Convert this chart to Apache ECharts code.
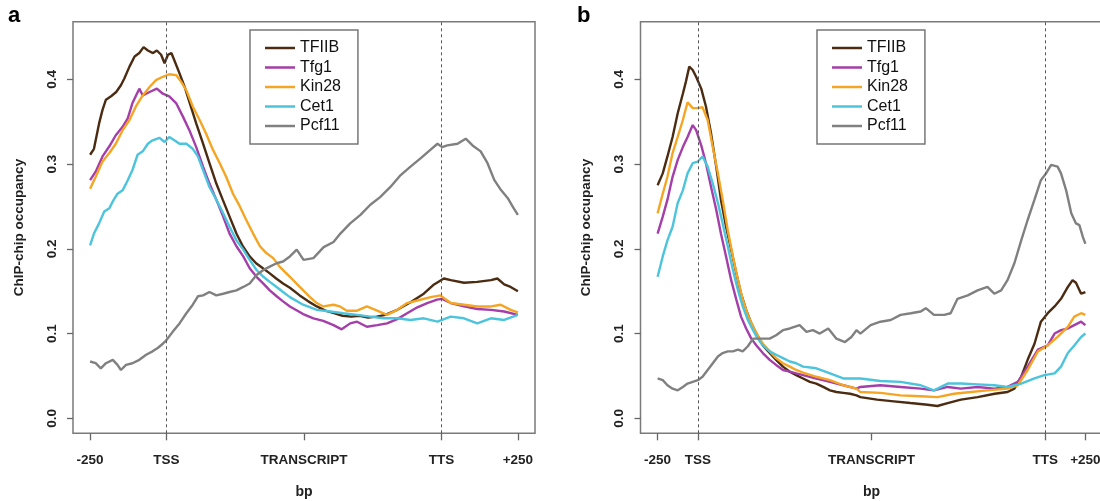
<!DOCTYPE html>
<html><head><meta charset="utf-8">
<script src="https://cdn.jsdelivr.net/npm/echarts@6/dist/echarts.min.js"></script>
<style>html,body{margin:0;padding:0;background:#fff}#c{width:1100px;height:501px}</style>
</head><body><div id="c"></div>
<script>
// ---- data (x = relative position along the metagene: 0 = -250, 1000 = +250) ----
const seriesNames = ['TFIIB', 'Tfg1', 'Kin28', 'Cet1', 'Pcf11'];
const tickLabels = ['-250', 'TSS', 'TRANSCRIPT', 'TTS', '+250'];
const ticksA = [0, 178.5, 500, 821.5, 1000];
const ticksB = [0, 94, 500, 906, 1000];
const yTicks = [0, 0.1, 0.2, 0.3, 0.4];

const aTFIIB = [[0,0.311],[9,0.318],[21,0.348],[29,0.364],[37,0.376],[49,0.380],[61,0.385],[72,0.393],[80,0.401],[92,0.415],[104,0.427],[115,0.431],[125,0.438],[135,0.434],[147,0.431],[156,0.434],[166,0.429],[174,0.419],[182,0.429],[190,0.431],[198,0.421],[209,0.407],[221,0.391],[233,0.372],[248,0.348],[264,0.324],[279,0.301],[295,0.277],[310,0.258],[326,0.238],[342,0.218],[357,0.203],[373,0.191],[388,0.183],[404,0.177],[420,0.171],[435,0.165],[451,0.159],[467,0.154],[490,0.145],[510,0.138],[530,0.132],[550,0.127],[570,0.124],[590,0.121],[610,0.120],[630,0.121],[650,0.119],[670,0.120],[690,0.122],[718,0.128],[749,0.137],[780,0.147],[804,0.158],[827,0.165],[843,0.163],[874,0.160],[905,0.161],[937,0.163],[952,0.165],[968,0.158],[983,0.155],[1000,0.150]];
const aTfg1 = [[0,0.281],[13,0.291],[29,0.309],[45,0.321],[60,0.334],[76,0.344],[88,0.354],[99,0.372],[115,0.389],[123,0.381],[139,0.385],[156,0.389],[170,0.383],[185,0.380],[201,0.372],[217,0.356],[232,0.340],[248,0.320],[264,0.297],[279,0.277],[295,0.258],[311,0.238],[326,0.218],[342,0.203],[358,0.191],[373,0.177],[389,0.167],[405,0.159],[420,0.151],[436,0.144],[451,0.138],[467,0.132],[498,0.123],[522,0.118],[545,0.115],[569,0.110],[588,0.105],[608,0.112],[624,0.114],[647,0.108],[671,0.110],[694,0.112],[718,0.117],[741,0.124],[765,0.131],[788,0.136],[811,0.140],[823,0.141],[843,0.136],[874,0.132],[905,0.129],[937,0.128],[968,0.126],[1000,0.122]];
const aKin28 = [[0,0.271],[13,0.285],[29,0.303],[45,0.313],[60,0.324],[76,0.340],[92,0.352],[107,0.368],[123,0.381],[139,0.391],[154,0.399],[170,0.403],[185,0.406],[201,0.405],[213,0.397],[225,0.387],[240,0.368],[256,0.352],[271,0.336],[287,0.317],[303,0.301],[318,0.285],[334,0.265],[350,0.250],[365,0.234],[381,0.218],[397,0.203],[412,0.195],[428,0.189],[443,0.179],[467,0.167],[490,0.155],[514,0.143],[530,0.136],[545,0.132],[569,0.134],[584,0.132],[600,0.127],[624,0.127],[647,0.132],[671,0.127],[694,0.122],[718,0.128],[741,0.136],[765,0.139],[796,0.143],[819,0.145],[843,0.136],[874,0.134],[905,0.132],[937,0.132],[960,0.134],[983,0.128],[1000,0.125]];
const aCet1 = [[0,0.204],[9,0.218],[21,0.230],[33,0.244],[45,0.248],[53,0.256],[64,0.265],[76,0.269],[88,0.281],[99,0.293],[111,0.311],[123,0.315],[135,0.324],[146,0.328],[162,0.331],[174,0.326],[185,0.332],[197,0.328],[209,0.324],[225,0.324],[240,0.318],[252,0.309],[264,0.293],[279,0.273],[295,0.258],[311,0.242],[326,0.226],[342,0.210],[358,0.199],[373,0.187],[389,0.175],[405,0.167],[420,0.161],[436,0.155],[451,0.149],[467,0.143],[498,0.134],[530,0.128],[561,0.126],[592,0.124],[624,0.122],[655,0.120],[686,0.118],[718,0.118],[749,0.116],[780,0.118],[812,0.114],[843,0.120],[874,0.118],[905,0.112],[937,0.118],[968,0.116],[1000,0.122]];
const aPcf11 = [[0,0.067],[13,0.065],[25,0.059],[37,0.065],[53,0.069],[64,0.063],[72,0.057],[84,0.063],[99,0.065],[115,0.069],[131,0.075],[146,0.079],[158,0.083],[170,0.088],[178,0.092],[193,0.102],[209,0.112],[225,0.124],[240,0.134],[252,0.144],[264,0.145],[279,0.149],[295,0.145],[311,0.147],[326,0.149],[342,0.151],[358,0.155],[373,0.159],[389,0.169],[405,0.175],[420,0.179],[436,0.183],[451,0.185],[467,0.191],[483,0.199],[499,0.187],[522,0.189],[546,0.202],[569,0.208],[585,0.218],[608,0.230],[632,0.240],[655,0.252],[678,0.261],[702,0.273],[726,0.287],[749,0.297],[773,0.307],[796,0.317],[812,0.324],[823,0.320],[835,0.322],[859,0.324],[878,0.330],[894,0.322],[913,0.315],[929,0.301],[945,0.281],[961,0.269],[976,0.260],[990,0.248],[1000,0.240]];

const bTFIIB = [[0,0.275],[12,0.289],[23,0.309],[35,0.332],[47,0.360],[59,0.383],[66,0.397],[74,0.415],[82,0.411],[90,0.403],[102,0.389],[113,0.368],[125,0.336],[137,0.297],[148,0.258],[160,0.226],[172,0.199],[184,0.171],[195,0.147],[207,0.128],[219,0.112],[231,0.100],[246,0.086],[262,0.077],[277,0.069],[293,0.061],[309,0.055],[324,0.051],[340,0.047],[356,0.043],[371,0.041],[387,0.037],[403,0.033],[418,0.031],[434,0.030],[450,0.029],[465,0.027],[474,0.025],[513,0.022],[552,0.020],[591,0.018],[631,0.016],[654,0.0145],[678,0.018],[709,0.022],[748,0.025],[788,0.029],[818,0.031],[834,0.035],[850,0.049],[865,0.069],[881,0.088],[896,0.114],[912,0.124],[928,0.132],[943,0.141],[959,0.155],[970,0.163],[978,0.160],[990,0.147],[1000,0.149]];
const bTfg1 = [[0,0.218],[12,0.238],[23,0.258],[35,0.285],[47,0.305],[59,0.320],[70,0.332],[82,0.346],[90,0.340],[102,0.322],[113,0.301],[125,0.273],[137,0.246],[148,0.218],[160,0.191],[172,0.163],[184,0.140],[195,0.120],[207,0.106],[219,0.094],[231,0.086],[246,0.077],[262,0.069],[277,0.063],[293,0.057],[309,0.055],[324,0.053],[340,0.051],[371,0.047],[403,0.043],[434,0.039],[465,0.035],[474,0.037],[521,0.039],[568,0.037],[615,0.035],[646,0.033],[678,0.037],[709,0.035],[748,0.037],[787,0.035],[818,0.037],[842,0.043],[865,0.061],[889,0.081],[912,0.086],[928,0.100],[943,0.104],[959,0.106],[974,0.110],[990,0.114],[1000,0.110]];
const bKin28 = [[0,0.242],[12,0.265],[23,0.285],[35,0.313],[47,0.332],[59,0.352],[70,0.373],[82,0.366],[94,0.366],[105,0.367],[117,0.352],[129,0.320],[141,0.289],[152,0.258],[164,0.222],[176,0.191],[188,0.163],[199,0.140],[211,0.122],[223,0.108],[234,0.098],[246,0.088],[262,0.079],[277,0.071],[293,0.065],[309,0.061],[324,0.057],[340,0.054],[371,0.049],[403,0.045],[434,0.039],[465,0.035],[474,0.031],[521,0.030],[568,0.027],[615,0.026],[654,0.025],[693,0.029],[732,0.031],[771,0.033],[818,0.035],[842,0.039],[865,0.057],[889,0.079],[912,0.086],[935,0.096],[959,0.108],[974,0.120],[990,0.124],[1000,0.122]];
const bCet1 = [[0,0.167],[12,0.191],[23,0.210],[35,0.226],[47,0.254],[59,0.269],[70,0.289],[82,0.301],[94,0.303],[105,0.309],[117,0.297],[129,0.277],[141,0.254],[152,0.230],[164,0.203],[176,0.175],[188,0.151],[199,0.132],[211,0.116],[223,0.104],[234,0.094],[246,0.086],[262,0.079],[277,0.075],[293,0.071],[309,0.067],[324,0.065],[340,0.061],[371,0.059],[403,0.053],[434,0.047],[465,0.047],[474,0.047],[521,0.044],[568,0.043],[615,0.039],[646,0.033],[678,0.041],[709,0.041],[748,0.040],[787,0.039],[818,0.037],[850,0.041],[881,0.047],[904,0.051],[928,0.053],[943,0.061],[959,0.077],[974,0.086],[990,0.096],[1000,0.100]];
const bPcf11 = [[0,0.047],[12,0.045],[23,0.039],[35,0.035],[47,0.033],[59,0.037],[70,0.041],[82,0.043],[94,0.045],[105,0.049],[117,0.057],[129,0.065],[141,0.073],[152,0.077],[164,0.079],[176,0.079],[188,0.081],[199,0.079],[211,0.085],[223,0.094],[234,0.094],[246,0.094],[262,0.094],[277,0.098],[293,0.104],[309,0.106],[332,0.110],[348,0.102],[363,0.104],[379,0.100],[399,0.106],[418,0.094],[438,0.090],[453,0.096],[465,0.104],[474,0.100],[498,0.110],[521,0.114],[545,0.116],[568,0.122],[592,0.124],[615,0.126],[627,0.130],[646,0.122],[670,0.122],[685,0.124],[701,0.141],[725,0.145],[748,0.151],[771,0.155],[787,0.147],[803,0.151],[818,0.163],[834,0.183],[850,0.210],[865,0.234],[881,0.258],[896,0.281],[908,0.289],[920,0.299],[935,0.297],[943,0.289],[955,0.269],[967,0.242],[978,0.230],[986,0.228],[994,0.214],[1000,0.206]];

// ---- styling ----
const colors = {TFIIB:'#4b2c12', Tfg1:'#a43ea9', Kin28:'#f5a524', Cet1:'#4cc4dc', Pcf11:'#808080'};
const FONT = '"Liberation Sans", Arial, sans-serif';
const panelA = {TFIIB:aTFIIB, Tfg1:aTfg1, Kin28:aKin28, Cet1:aCet1, Pcf11:aPcf11};
const panelB = {TFIIB:bTFIIB, Tfg1:bTfg1, Kin28:bKin28, Cet1:bCet1, Pcf11:bPcf11};

function xAxis(gi, ticks) {
  return {
    type:'value', gridIndex:gi, min:-40, max:1040,
    axisLine:{show:false, onZero:false}, splitLine:{show:false},
    axisTick:{show:true, length:7, customValues:ticks, lineStyle:{color:'#666', width:1.3}},
    axisLabel:{customValues:ticks, margin:20, fontSize:13.5, fontWeight:'bold', color:'#222', fontFamily:FONT,
      formatter: v => { const i = ticks.findIndex(t => Math.abs(t - v) < 0.5); return i >= 0 ? tickLabels[i] : ''; }},
    name:'bp', nameLocation:'middle', nameGap:52,
    nameTextStyle:{fontSize:14, fontWeight:'bold', color:'#222', fontFamily:FONT}
  };
}
function yAxis(gi) {
  return {
    type:'value', gridIndex:gi, min:-0.0177, max:0.468,
    axisLine:{show:false, onZero:false}, splitLine:{show:false},
    axisTick:{show:true, length:6, customValues:yTicks, lineStyle:{color:'#666', width:1.3}},
    axisLabel:{customValues:yTicks, rotate:90, margin:14, fontSize:13.5, fontWeight:'bold', color:'#222', fontFamily:FONT,
      formatter: v => v.toFixed(1)},
    name:'ChIP-chip occupancy', nameLocation:'middle', nameRotate:90, nameGap:47,
    nameTextStyle:{fontSize:13.5, fontWeight:'bold', color:'#222', fontFamily:FONT}
  };
}
function lines(gi, panel, ticks) {
  return seriesNames.map(n => {
    const s = {
      type:'line', name:n, xAxisIndex:gi, yAxisIndex:gi, data:panel[n],
      showSymbol:false, symbol:'none', animation:false,
      lineStyle:{width:2.4, color:colors[n]}, itemStyle:{color:colors[n]}
    };
    if (n === 'Pcf11') {
      s.markLine = {symbol:['none','none'], silent:true, animation:false, label:{show:false},
        lineStyle:{type:[3,3], color:'#555', width:1},
        data:[{xAxis:ticks[1]}, {xAxis:ticks[3]}]};
    }
    return s;
  });
}
function legend(left) {
  return {
    data:seriesNames, orient:'vertical', left:left, top:30,
    icon:'rect', itemWidth:30, itemHeight:2.5, itemGap:1.5,
    padding:[9, 17, 9, 15], borderColor:'#777', borderWidth:1.5,
    textStyle:{fontSize:16, lineHeight:18, color:'#111', fontFamily:FONT},
    selectedMode:false
  };
}

const chart = echarts.init(document.getElementById('c'), null, {renderer:'canvas'});
chart.setOption({
  backgroundColor:'#fff',
  animation:false,
  grid:[
    {left:73, top:21.7, width:462, height:411.6, show:true, borderColor:'#7a7a7a', borderWidth:1.5, containLabel:false, outerBoundsMode:'none'},
    {left:640.5, top:21.7, width:462, height:411.6, show:true, borderColor:'#7a7a7a', borderWidth:1.5, containLabel:false, outerBoundsMode:'none'}
  ],
  xAxis:[xAxis(0, ticksA), xAxis(1, ticksB)],
  yAxis:[yAxis(0), yAxis(1)],
  legend:[legend(250), legend(817)],
  series:[...lines(0, panelA, ticksA), ...lines(1, panelB, ticksB)],
  graphic:[
    {type:'text', left:8, top:5, style:{text:'a', font:'bold 22px ' + FONT, fill:'#000'}},
    {type:'text', left:577, top:5, style:{text:'b', font:'bold 22px ' + FONT, fill:'#000'}}
  ]
});
</script></body></html>
